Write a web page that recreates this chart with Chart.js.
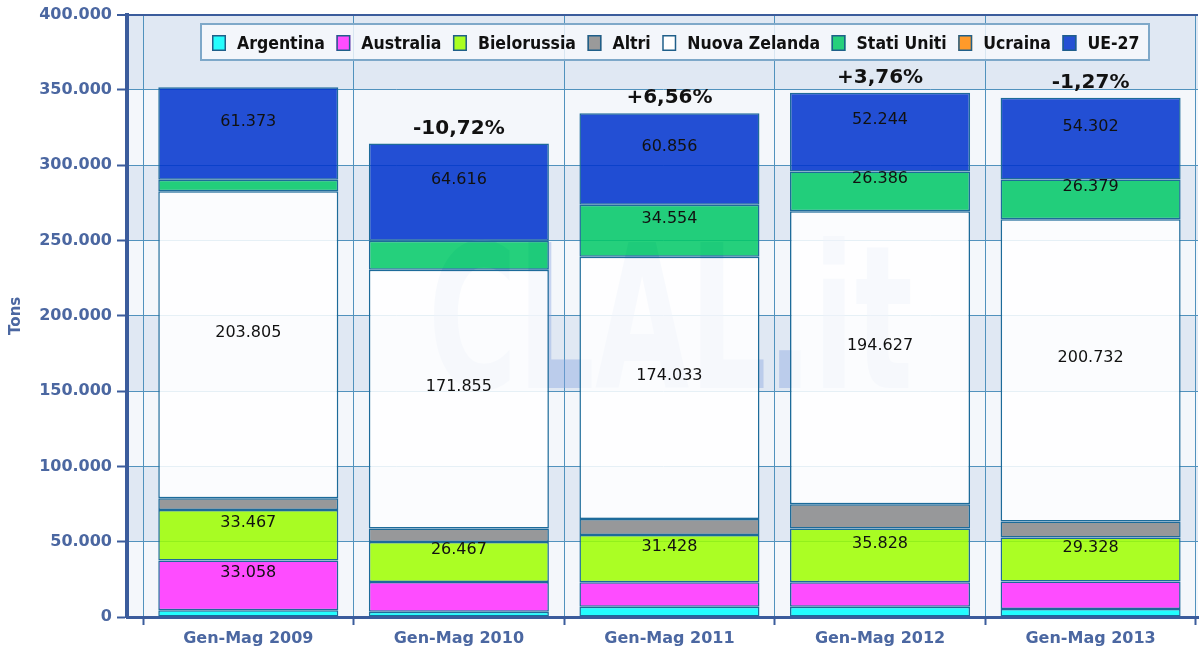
<!DOCTYPE html>
<html><head><meta charset="utf-8">
<script src="https://cdn.jsdelivr.net/npm/chart.js@4.4.0/dist/chart.umd.min.js"></script>
<style>html,body{margin:0;padding:0;background:#fff;}</style>
</head><body>
<canvas id="c" width="1201" height="652"></canvas>
<script>
const categories = ['Gen-Mag 2009','Gen-Mag 2010','Gen-Mag 2011','Gen-Mag 2012','Gen-Mag 2013'];
const argentina    = [4500, 3500, 6800, 6800, 5300];
const australia    = [33058, 19800, 16200, 16200, 18200];
const bielorussia  = [33467, 26467, 31428, 35828, 29328];
const altri        = [7800, 9000, 10700, 16000, 10600];
const nuovaZelanda = [203805, 171855, 174033, 194627, 200732];
const statiUniti   = [7700, 19200, 34554, 26386, 26379];
const ucraina      = [0, 0, 0, 0, 0];
const ue27         = [61373, 64616, 60856, 52244, 54302];
const changeLabels = ['', '-10,72%', '+6,56%', '+3,76%', '-1,27%'];
const yMax = 400000;
const yStep = 50000;

const seriesNames  = ['Argentina','Australia','Bielorussia','Altri','Nuova Zelanda','Stati Uniti','Ucraina','UE-27'];
const seriesData   = [argentina, australia, bielorussia, altri, nuovaZelanda, statiUniti, ucraina, ue27];
const fillColors   = ['rgba(0,255,255,0.86)','rgba(255,48,255,0.86)','rgba(158,255,0,0.86)','rgba(138,138,138,0.86)','rgba(255,255,255,0.86)','rgba(2,202,102,0.86)','rgba(255,150,20,0.86)','rgba(0,51,205,0.86)'];
const legendColors = ['#26fdfd','#ff4dff','#aaff22','#9a9a9a','#ffffff','#26d07c','#ff9a2a','#2550d4'];

const axisBlue = '#3b5c9c';
const labelBlue = '#4b67a1';
const gridTeal = '#5192bd';
const barBorder = '#1d6b9a';

function fmt(n){ return String(Math.round(n)).replace(/\B(?=(\d{3})+(?!\d))/g, '.'); }

const datasets = seriesNames.map((name, k) => ({
  label: name,
  data: seriesData[k].map((v, i) => ({x: i, y: v})),
  backgroundColor: fillColors[k],
  borderColor: barBorder,
  borderWidth: 1.5,
  borderSkipped: false,
  barPercentage: 0.855,
  categoryPercentage: 1.0
}));

const bandsPlugin = {
  id: 'bands',
  beforeDraw(chart){
    const {ctx, chartArea:{left,right}, scales:{y}} = chart;
    ctx.save();
    for (let v = 0, k = 0; v < yMax; v += yStep, k++){
      const y1 = y.getPixelForValue(v + yStep), y2 = y.getPixelForValue(v);
      ctx.fillStyle = (k % 2 === 1) ? '#e0e8f3' : '#f4f7fb';
      ctx.fillRect(left, y1, right - left, y2 - y1);
    }
    ctx.restore();
  },
  beforeDatasetsDraw(chart){
    const {ctx} = chart;
    // watermark
    ctx.save();
    ctx.font = 'bold 200px "DejaVu Sans"';
    const wm = 'CLAL.it';
    const w = ctx.measureText(wm).width;
    ctx.translate(428, 388);
    ctx.scale(485 / w, 1);
    ctx.fillStyle = 'rgba(135,165,225,0.42)';
    ctx.textBaseline = 'alphabetic';
    ctx.fillText(wm, 0, 0);
    ctx.restore();
    // legend
    ctx.save();
    ctx.fillStyle = 'rgba(246,249,253,0.82)';
    ctx.fillRect(200, 23, 950, 38);
    ctx.strokeStyle = '#7ea8c9';
    ctx.lineWidth = 2;
    ctx.strokeRect(201, 24, 948, 36);
    ctx.font = 'bold 17.5px "DejaVu Sans Condensed", "DejaVu Sans"';
    ctx.textBaseline = 'middle';
    let x = 212;
    const cy = 43;
    seriesNames.forEach((name, k) => {
      ctx.fillStyle = legendColors[k];
      ctx.fillRect(x, cy - 8, 14, 16);
      ctx.strokeStyle = '#1f5f8a';
      ctx.lineWidth = 1.5;
      ctx.strokeRect(x + 0.75, cy - 7.25, 12.5, 14.5);
      ctx.fillStyle = '#111';
      ctx.fillText(name, x + 25, cy + 1);
      x += 25 + ctx.measureText(name).width + 11.5;
    });
    ctx.restore();
  },
  afterDatasetsDraw(chart){
    const {ctx, scales:{y}} = chart;
    ctx.save();
    ctx.textAlign = 'center';
    ctx.textBaseline = 'middle';
    ctx.font = '16px "DejaVu Sans"';
    ctx.fillStyle = '#111';
    chart.data.datasets.forEach((ds, k) => {
      const meta = chart.getDatasetMeta(k);
      meta.data.forEach((el, i) => {
        const v = seriesData[k][i];
        if (v >= 25000){
          const cyy = (el.y + el.base) / 2 - 12;
          ctx.fillText(fmt(v), el.x, cyy);
        }
      });
    });
    ctx.font = 'bold 20px "DejaVu Sans"';
    const meta0 = chart.getDatasetMeta(0);
    categories.forEach((c, i) => {
      if (!changeLabels[i]) return;
      let total = 0;
      seriesData.forEach(arr => total += arr[i]);
      const top = y.getPixelForValue(total);
      ctx.fillText(changeLabels[i], meta0.data[i].x, top - 15);
    });
    ctx.restore();
  }
};

new Chart(document.getElementById('c'), {
  type: 'bar',
  data: { datasets },
  options: {
    responsive: false,
    animation: false,
    layout: { padding: { top: 13, right: 3, left: 0, bottom: 0 } },
    plugins: { legend: { display: false }, tooltip: { enabled: false } },
    scales: {
      x: {
        type: 'linear',
        stacked: true,
        offset: false,
        min: -0.576,
        max: 4.51,
        afterBuildTicks(scale){ scale.ticks = categories.map((c, i) => ({value: i})); },
        afterFit(scale){ scale.height = 35; },
        ticks: {
          autoSkip: false, maxRotation: 0, padding: 4,
          color: labelBlue,
          font: { family: 'DejaVu Sans', weight: 'bold', size: 16 },
          callback(value){ return categories[Math.round(value)]; }
        },
        grid: {
          offset: true,
          color: gridTeal,
          tickColor: axisBlue,
          tickLength: 8, tickWidth: 2, lineWidth: 1
        },
        border: { display: true, color: axisBlue, width: 3 }
      },
      y: {
        stacked: true,
        min: 0, max: yMax,
        afterFit(scale){ scale.width = 127; },
        ticks: {
          stepSize: yStep, padding: 5,
          color: labelBlue,
          font: { family: 'DejaVu Sans', weight: 'bold', size: 16 },
          callback: v => fmt(v)
        },
        grid: {
          color: c => (c.tick && c.tick.value === yMax) ? axisBlue : gridTeal,
          lineWidth: c => (c.tick && c.tick.value === yMax) ? 2 : 1,
          tickColor: axisBlue, tickLength: 10, tickWidth: 2
        },
        border: { display: true, color: axisBlue, width: 4 },
        title: {
          display: true, text: 'Tons', color: labelBlue,
          font: { family: 'DejaVu Sans', weight: 'bold', size: 15 },
          padding: { top: 7, bottom: 0 }
        }
      }
    }
  },
  plugins: [bandsPlugin]
});
</script>
</body></html>
